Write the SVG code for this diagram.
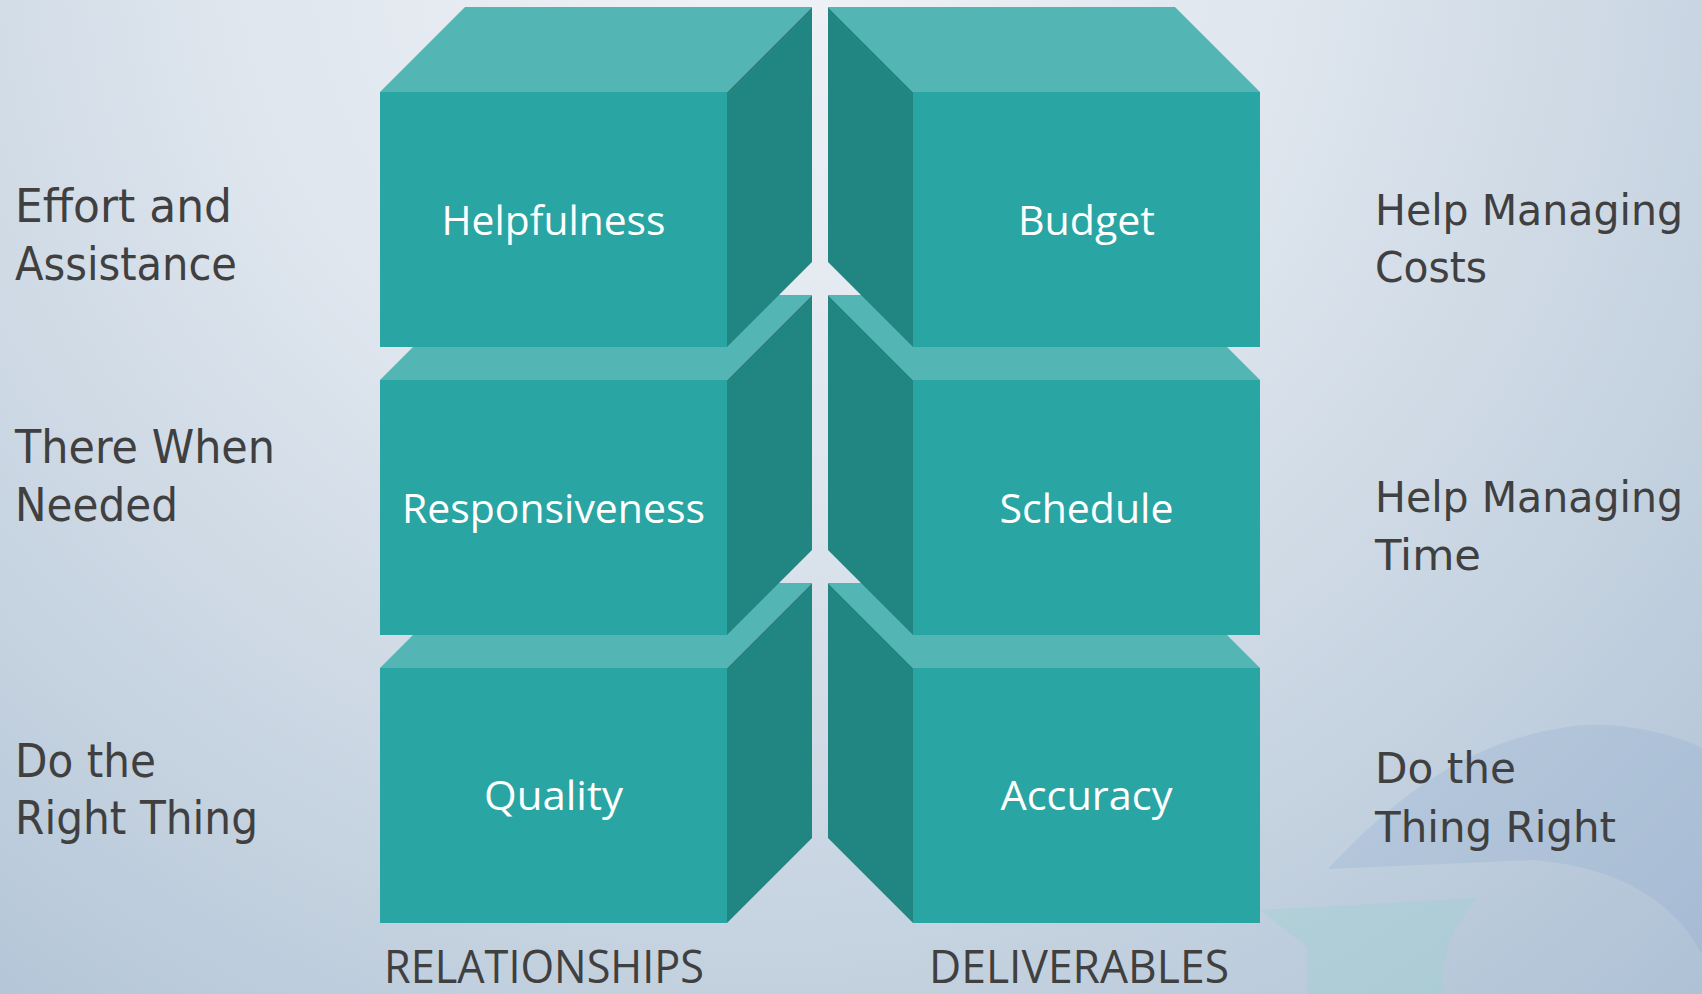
<svg xmlns="http://www.w3.org/2000/svg" xmlns:xlink="http://www.w3.org/1999/xlink" width="1702" height="994" viewBox="0 0 1702 994">
  <defs>
    <radialGradient id="bg" gradientUnits="userSpaceOnUse" cx="760" cy="-60" r="1500">
      <stop offset="0" stop-color="#f0f3f7"/>
      <stop offset="0.35" stop-color="#dfe6ee"/>
      <stop offset="0.7" stop-color="#c3d1df"/>
      <stop offset="1" stop-color="#a9bdd3"/>
    </radialGradient>
    <style>
      .front { fill: #29a5a3; }
      .top   { fill: #54b5b5; }
      .side  { fill: #218581; }
      .box-label { font-family: "Open Sans", "Noto Sans", sans-serif; font-size: 41px; fill: #ffffff; text-anchor: middle; }
      .side-label { font-family: "DejaVu Sans", Verdana, sans-serif; font-size: 47px; fill: #404040; }
      .side-label.right { font-size: 43px; }
      .col-label { font-family: "Liberation Sans Narrow", "Open Sans", sans-serif; font-size: 45px; fill: #404040; }
    </style>
    <!-- cube opening to the right (left column) -->
    <g id="cubeL">
      <polygon class="top" points="380,0 465,-85 812,-85 727,0"/>
      <polygon class="side" points="727,0 812,-85 812,170 727,255"/>
      <rect class="front" x="380" y="0" width="347" height="255"/>
    </g>
    <!-- cube opening to the left (right column) -->
    <g id="cubeR">
      <polygon class="top" points="913,0 828,-85 1175,-85 1260,0"/>
      <polygon class="side" points="913,0 828,-85 828,170 913,255"/>
      <rect class="front" x="913" y="0" width="347" height="255"/>
    </g>
  </defs>

  <!-- backdrop -->
  <rect x="0" y="0" width="1702" height="994" fill="url(#bg)"/>
  <g id="backdrop-shapes">
    <path d="M1328,869 C1400,792 1470,742 1567,727 C1620,720 1670,733 1702,748 L1702,955 C1680,910 1630,868 1533,860 Z" fill="#8fadd0" opacity="0.28"/>
    <path d="M1260,910 L1477,898 C1450,930 1440,960 1443,994 L1307,994 L1307,947 Z" fill="#9fd0d0" opacity="0.45"/>
  </g>

  <!-- bottom row first so upper cubes overlap the bevels below -->
  <g id="node-quality">
    <use xlink:href="#cubeL" transform="translate(0,668)"/>
    <text class="box-label" x="553.5" y="810" textLength="139" lengthAdjust="spacingAndGlyphs">Quality</text>
  </g>
  <g id="node-accuracy">
    <use xlink:href="#cubeR" transform="translate(0,668)"/>
    <text class="box-label" x="1086.5" y="810" textLength="172" lengthAdjust="spacingAndGlyphs">Accuracy</text>
  </g>
  <g id="node-responsiveness">
    <use xlink:href="#cubeL" transform="translate(0,380)"/>
    <text class="box-label" x="553.5" y="523" textLength="303" lengthAdjust="spacingAndGlyphs">Responsiveness</text>
  </g>
  <g id="node-schedule">
    <use xlink:href="#cubeR" transform="translate(0,380)"/>
    <text class="box-label" x="1086.5" y="523" textLength="174" lengthAdjust="spacingAndGlyphs">Schedule</text>
  </g>
  <g id="node-helpfulness">
    <use xlink:href="#cubeL" transform="translate(0,92)"/>
    <text class="box-label" x="553.5" y="235" textLength="224" lengthAdjust="spacingAndGlyphs">Helpfulness</text>
  </g>
  <g id="node-budget">
    <use xlink:href="#cubeR" transform="translate(0,92)"/>
    <text class="box-label" x="1086.5" y="235" textLength="137" lengthAdjust="spacingAndGlyphs">Budget</text>
  </g>

  <!-- left descriptions -->
  <g id="label-effort">
    <text class="side-label" x="15" y="222" textLength="217" lengthAdjust="spacingAndGlyphs">Effort and</text>
    <text class="side-label" x="15" y="280" textLength="222" lengthAdjust="spacingAndGlyphs">Assistance</text>
  </g>
  <g id="label-there">
    <text class="side-label" x="15" y="463" textLength="260" lengthAdjust="spacingAndGlyphs">There When</text>
    <text class="side-label" x="15" y="521" textLength="163" lengthAdjust="spacingAndGlyphs">Needed</text>
  </g>
  <g id="label-right-thing">
    <text class="side-label" x="15" y="777" textLength="141" lengthAdjust="spacingAndGlyphs">Do the</text>
    <text class="side-label" x="15" y="834" textLength="243" lengthAdjust="spacingAndGlyphs">Right Thing</text>
  </g>

  <!-- right descriptions -->
  <g id="label-costs">
    <text class="side-label right" x="1375" y="225" textLength="308" lengthAdjust="spacingAndGlyphs">Help Managing</text>
    <text class="side-label right" x="1375" y="282" textLength="112" lengthAdjust="spacingAndGlyphs">Costs</text>
  </g>
  <g id="label-time">
    <text class="side-label right" x="1375" y="512" textLength="308" lengthAdjust="spacingAndGlyphs">Help Managing</text>
    <text class="side-label right" x="1375" y="570" textLength="106" lengthAdjust="spacingAndGlyphs">Time</text>
  </g>
  <g id="label-thing-right">
    <text class="side-label right" x="1375" y="783" textLength="141" lengthAdjust="spacingAndGlyphs">Do the</text>
    <text class="side-label right" x="1375" y="842" textLength="241" lengthAdjust="spacingAndGlyphs">Thing Right</text>
  </g>

  <!-- column captions -->
  <text class="col-label" x="384" y="983" textLength="320" lengthAdjust="spacingAndGlyphs">RELATIONSHIPS</text>
  <text class="col-label" x="929" y="983" textLength="300" lengthAdjust="spacingAndGlyphs">DELIVERABLES</text>
</svg>
